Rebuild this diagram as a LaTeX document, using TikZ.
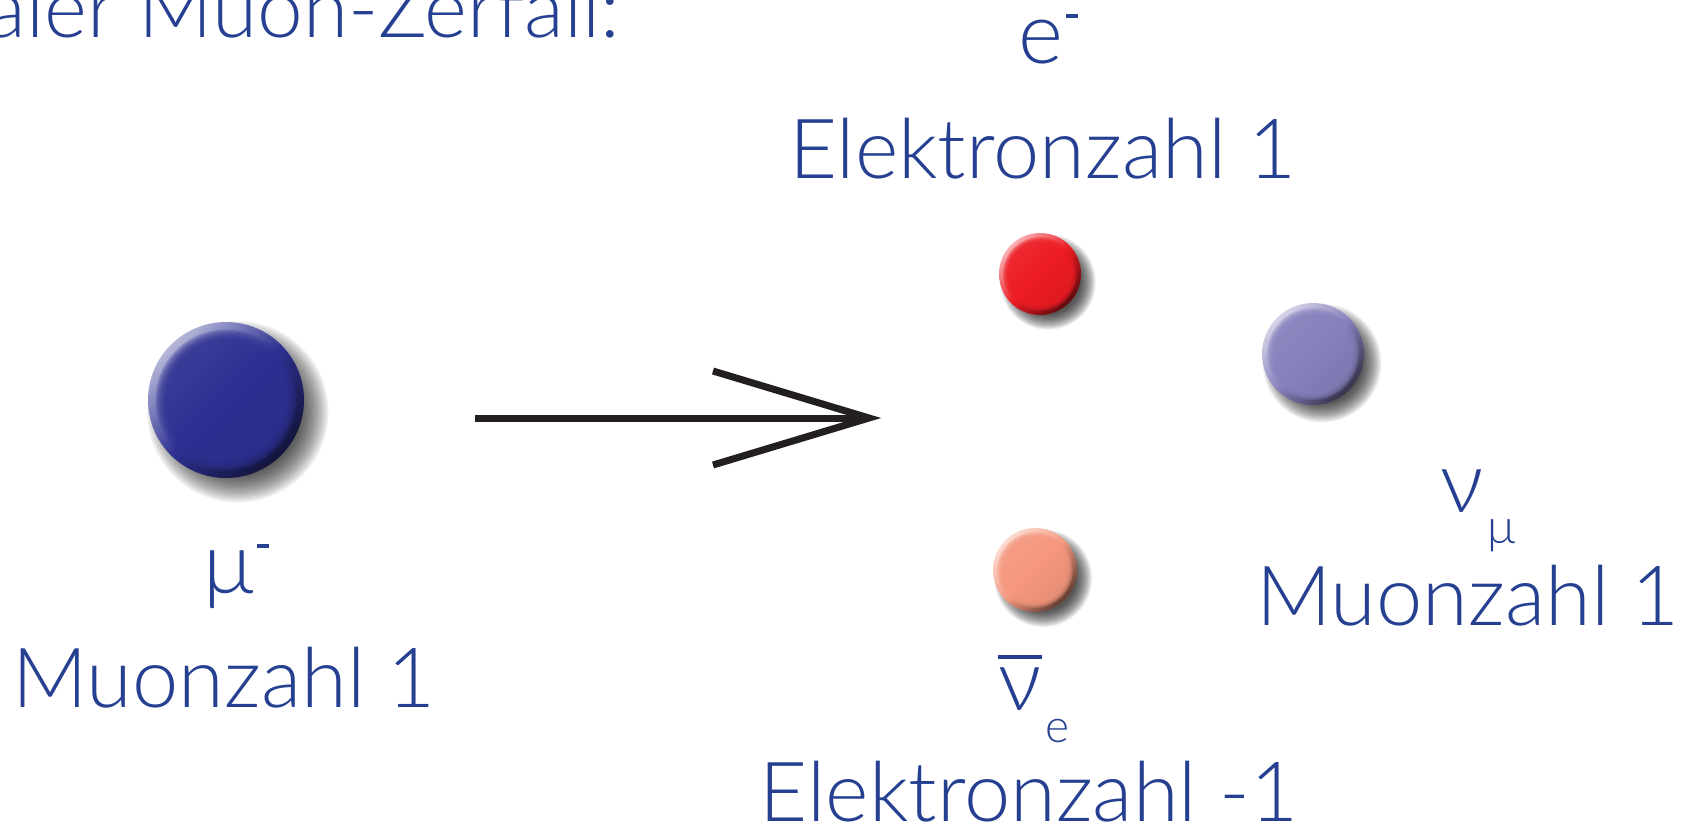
\documentclass[tikz,border=0pt]{standalone}
\usepackage{fontspec}
\setmainfont{Lato Light}
\usetikzlibrary{positioning}
\definecolor{labelblue}{RGB}{38,64,145}
\definecolor{arrowblack}{RGB}{35,31,32}
\definecolor{muonblue}{RGB}{46,49,146}
\definecolor{electronred}{RGB}{237,28,36}
\definecolor{numupurple}{RGB}{135,129,189}
\definecolor{nuesalmon}{RGB}{245,152,126}
\newcommand\chargeminus{\kern1.5pt\raisebox{22.5pt}{\rule{6pt}{2pt}}}
\newcommand\barred[1]{\leavevmode\vbox{\hrule height 2pt\kern4pt\hbox{#1}}}

\begin{document}
\begin{tikzpicture}[x=0.5pt,y=-0.5pt,
    countlabel/.style={text=labelblue,inner sep=0pt,anchor=base,font=\fontsize{41.5}{46}\selectfont},
    particle/.style={text=labelblue,inner sep=0pt,anchor=base west,font=\fontsize{43}{48}\selectfont},
    ball/.style={circle,inner sep=0pt,minimum size=#1}]
  \useasboundingbox (0,0) rectangle (1690,831);
  \foreach \name/\x/\y/\r/\col in {muon/226/400/78/muonblue,electron/1040/274/41/electronred,numu/1313/354/51/numupurple,nuebar/1035/570/42/nuesalmon}{
    \foreach \s in {0.80,0.83,...,1.17}
      \fill[black,opacity=0.08] (\x+0.1*\r+4,\y+0.1*\r+4) circle[radius=\s*\r];
    \node[ball=\r pt,top color=\col!35!white,bottom color=\col!40!black,middle color=\col,shading angle=45] (\name) at (\x,\y) {};
    \foreach \s in {0.9,0.87,...,0.77}
      \fill[\col,opacity=0.35] (\name.center) circle[radius=\s*\r];
  }
  \node[countlabel,anchor=base east,font=\fontsize{41}{46}\selectfont] (title) at (620,37) {aler Muon-Zerfall:};
  \node[particle] (musym) at (203,593) {μ\chargeminus};
  \node[countlabel] (mucount) at (224,707) {Muonzahl 1};
  \node[particle] (esym) at (1018,63) {e\chargeminus};
  \node[countlabel] (ecount) at (1043,178) {Elektronzahl 1};
  \node[particle] (numusym) at (1440,512) {ν\kern2pt\raisebox{-15.5pt}{\fontsize{24}{24}\selectfont μ}};
  \node[countlabel] (numucount) at (1468,625) {Muonzahl 1};
  \node[particle] (nuebarsym) at (998,710) {\barred{ν}\kern2pt\raisebox{-16pt}{\fontsize{23}{23}\selectfont e}};
  \node[countlabel] (nuebarcount) at (1029,821) {Elektronzahl -1};
  \coordinate (arrowstart) at (475,418);
  \coordinate (arrowtip) at (869,418);
  \coordinate (barbup) at (713,371);
  \coordinate (barbdown) at (713,465);
  \draw[arrowblack,line width=3.5pt] (arrowstart) -- (arrowtip);
  \draw[arrowblack,line width=3.5pt] (barbup) -- (arrowtip) -- (barbdown);
\end{tikzpicture}
\end{document}
